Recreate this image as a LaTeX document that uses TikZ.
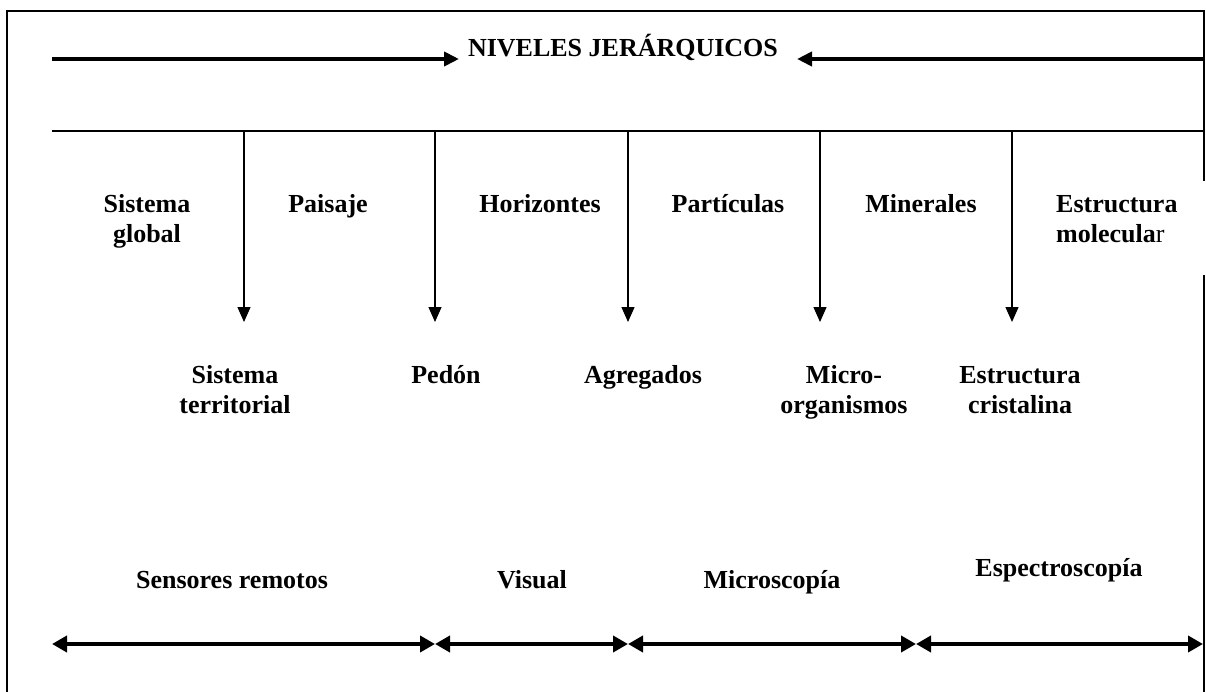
\documentclass[tikz,border=0pt]{standalone}
\usepackage{fontspec}
\setmainfont{Liberation Serif}
\usetikzlibrary{arrows.meta}
\tikzset{
  lbl/.style={font=\fontsize{26}{30}\selectfont\bfseries, inner sep=0pt, align=center, anchor=base},
  frameline/.style={line width=1.5pt, line cap=rect},
  thinarrow/.style={line width=1.2pt, -{Triangle[length=15pt,width=13pt]}},
  thickarrow/.style={line width=4pt, -{Triangle[length=15pt,width=14pt]}},
  dblarrow/.style={line width=4pt, {Triangle[length=15pt,width=16pt]}-{Triangle[length=15pt,width=16pt]}}
}
\begin{document}
\begin{tikzpicture}[x=1pt,y=-1pt]
\useasboundingbox (0,0) rectangle (1206,692);
% frame
\coordinate (fbl) at (7,692);
\coordinate (ftl) at (7,11);
\coordinate (ftr) at (1204,11);
\coordinate (fr1) at (1204,180);
\coordinate (fr2) at (1204,276);
\coordinate (fbr) at (1204,692);
\draw[frameline] (fbl) -- (ftl) -- (ftr) -- (fr1);
\draw[frameline] (fr2) -- (fbr);
% title and arrows
\node[lbl] (title) at (623,57) {NIVELES JERÁRQUICOS};
\coordinate (tl0) at (52,59);
\coordinate (tl1) at (459,59);
\coordinate (tr0) at (1204,59);
\coordinate (tr1) at (797,59);
\draw[thickarrow] (tl0) -- (tl1);
\draw[thickarrow] (tr0) -- (tr1);
% horizontal line
\coordinate (h0) at (52,131);
\coordinate (h1) at (1204,131);
\draw[line width=1.5pt] (h0) -- (h1);
% vertical arrows
\foreach \i/\x in {1/244,2/435,3/628,4/820,5/1012}{
  \coordinate (va\i) at (\x,131);
  \coordinate (vb\i) at (\x,322);
  \draw[thinarrow] (va\i) -- (vb\i);
}
% row 1 (multi-line nodes: base anchor is at the last line)
\node[lbl] (sg) at (147,243) {Sistema\\global};
\node[lbl] (pa) at (328,213) {Paisaje};
\node[lbl] (ho) at (540,213) {Horizontes};
\node[lbl] (pt) at (728,213) {Partículas};
\node[lbl] (mi) at (921,213) {Minerales};
\node[lbl, align=left, anchor=base west] (em) at (1056,243) {Estructura\\molecula{\mdseries r}};
% row 2
\node[lbl] (st) at (235,413) {Sistema\\territorial};
\node[lbl] (pe) at (446,383) {Pedón};
\node[lbl] (ag) at (643,383) {Agregados};
\node[lbl] (mo) at (844,413) {Micro-\\organismos};
\node[lbl] (ec) at (1020,413) {Estructura\\cristalina};
% row 3
\node[lbl] (sr) at (232,588) {Sensores remotos};
\node[lbl] (vi) at (532,588) {Visual};
\node[lbl] (mc) at (772,588) {Microscopía};
\node[lbl] (es) at (1059,576) {Espectroscopía};
% bottom double arrows
\coordinate (b0) at (52,644);
\coordinate (b1) at (435,644);
\coordinate (b2) at (628,644);
\coordinate (b3) at (916,644);
\coordinate (b4) at (1203,644);
\draw[dblarrow] (b0) -- (b1);
\draw[dblarrow] (b1) -- (b2);
\draw[dblarrow] (b2) -- (b3);
\draw[dblarrow] (b3) -- (b4);
\end{tikzpicture}
\end{document}
